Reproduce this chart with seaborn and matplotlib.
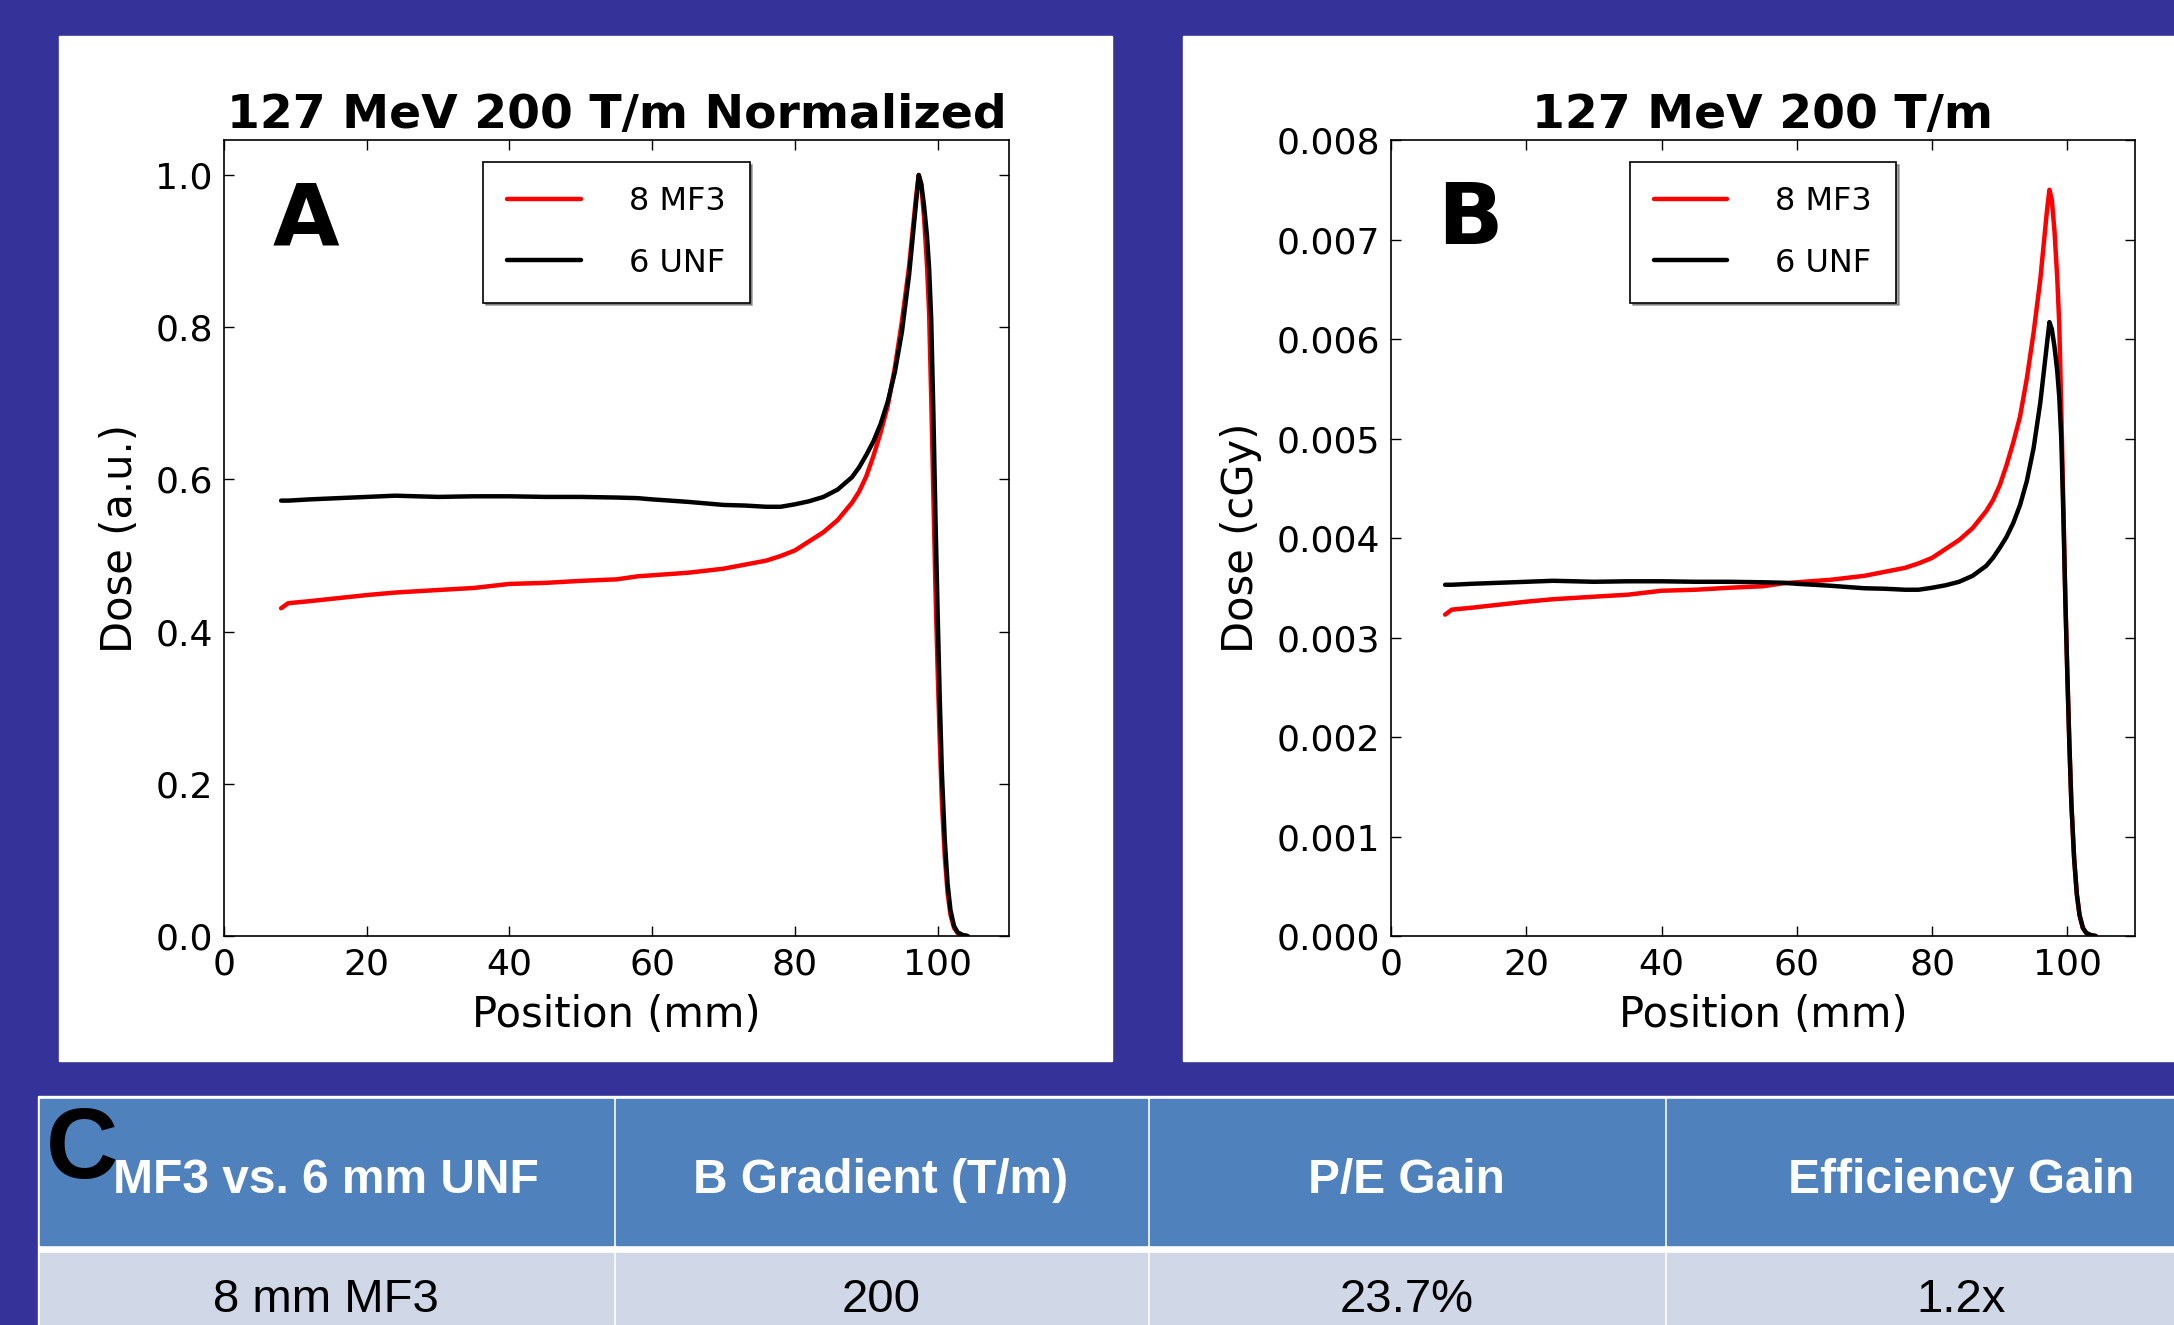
import numpy as np
import pandas as pd
import matplotlib
matplotlib.use("Agg")
import matplotlib.pyplot as plt
import seaborn as sns
from matplotlib.patches import Rectangle
from matplotlib.ticker import FormatStrFormatter

# depth dose curves (dose in 1e-3 cGy)
position = [8, 9, 12, 16, 20, 24, 30, 35, 40, 45,
            50, 55, 58, 60, 65, 70, 73, 76, 78, 80,
            82, 84, 86, 88, 89, 90, 91, 92, 93, 94,
            95, 96, 96.5, 97, 97.35, 97.7, 98.1, 98.5, 98.8, 99.1,
            99.4, 99.7, 100.0, 100.3, 100.6, 101.0, 101.4, 101.8, 102.3, 102.8,
            103.5, 104.2]
dose_mf3 = [3.23, 3.28, 3.30, 3.33, 3.36, 3.385, 3.41, 3.43, 3.47, 3.48,
            3.50, 3.515, 3.545, 3.555, 3.58, 3.62, 3.66, 3.70, 3.745, 3.80,
            3.89, 3.98, 4.10, 4.27, 4.38, 4.53, 4.73, 4.96, 5.22, 5.60,
            6.06, 6.60, 6.95, 7.30, 7.50, 7.40, 7.08, 6.62, 6.15, 5.30,
            4.35, 3.40, 2.62, 1.92, 1.32, 0.78, 0.42, 0.21, 0.08, 0.03,
            0.008, 0.0]
dose_unf = [3.53, 3.53, 3.54, 3.55, 3.56, 3.57, 3.56, 3.565, 3.565, 3.56,
            3.56, 3.555, 3.55, 3.54, 3.52, 3.495, 3.49, 3.48, 3.48, 3.50,
            3.525, 3.56, 3.62, 3.72, 3.80, 3.90, 4.01, 4.15, 4.33, 4.57,
            4.90, 5.36, 5.66, 5.96, 6.17, 6.10, 5.92, 5.68, 5.42, 5.00,
            4.25, 3.38, 2.62, 1.92, 1.32, 0.78, 0.42, 0.21, 0.08, 0.03,
            0.008, 0.0]
beams = ["8 MF3", "6 UNF"]
colors = ["#ff0000", "#000000"]

# table C
header_labels = ["MF3 vs. 6 mm UNF", "B Gradient (T/m)", "P/E Gain", "Efficiency Gain"]
row_values = ["8 mm MF3", "200", "23.7%", "1.2x"]

n = len(position)
df = pd.DataFrame({
    "Position": position * 2,
    "Dose": np.array(dose_mf3 + dose_unf) * 1e-3,
    "Beam": [beams[0]] * n + [beams[1]] * n,
})
df["Norm"] = df["Dose"] / df.groupby("Beam")["Dose"].transform("max")

sns.set_theme(style="ticks", rc={
    "xtick.direction": "in", "ytick.direction": "in",
    "xtick.top": True, "ytick.right": True,
    "xtick.major.size": 7, "ytick.major.size": 7,
    "xtick.major.width": 1.0, "ytick.major.width": 1.0,
    "axes.linewidth": 1.2, "axes.edgecolor": "black",
    "xtick.color": "black", "ytick.color": "black",
    "text.color": "black", "axes.labelcolor": "black",
})
plt.rcParams["font.family"] = ["DejaVu Sans"]

W, H = 2174, 1325
BG = "#353399"
fig = plt.figure(figsize=(W / 100, H / 100), dpi=100, facecolor=BG)

# background layer in pixel units
bg = fig.add_axes([0, 0, 1, 1])
bg.set_xlim(0, W)
bg.set_ylim(H, 0)
bg.axis("off")
bg.set_zorder(0)
bg.add_patch(Rectangle((59, 36), 1053, 1025, color="white"))
bg.add_patch(Rectangle((1183, 36), 1000, 1025, color="white"))

# table
col_edges = [38, 614, 1148, 1665, 2258]
bg.add_patch(Rectangle((38, 1096), 2258 - 38, 300, color="white"))
for i in range(4):
    x0, x1 = col_edges[i] + 1.5, col_edges[i + 1] - 1.5
    bg.add_patch(Rectangle((x0, 1099), x1 - x0, 1245 - 1099, color="#4f81bd"))
    bg.add_patch(Rectangle((x0, 1253), x1 - x0, 120, color="#d0d8e8"))
    xc = (col_edges[i] + col_edges[i + 1]) / 2
    bg.text(xc, 1193, header_labels[i], ha="center", va="baseline", color="white",
            fontsize=34.5, fontweight="bold", family="Liberation Sans")
    bg.text(xc, 1312, row_values[i], ha="center", va="baseline", color="black",
            fontsize=34, family="Liberation Sans")
bg.text(46, 1178, "C", ha="left", va="baseline", color="black",
        fontsize=72, fontweight="bold", family="Liberation Sans")

ax_a = fig.add_axes([224 / W, 1 - 936 / H, 785 / W, 796 / H])
ax_b = fig.add_axes([1391 / W, 1 - 936 / H, 744 / W, 796 / H])

panels = [
    (ax_a, "Norm", "127 MeV 200 T/m Normalized", "Dose (a.u.)", 1.046,
     np.arange(0, 1.01, 0.2), "%.1f", "A"),
    (ax_b, "Dose", "127 MeV 200 T/m", "Dose (cGy)", 0.008,
     np.arange(0, 0.00801, 0.001), "%.3f", "B"),
]

for ax, col, title, ylabel, ytop, yticks, fmt, letter in panels:
    ax.set_zorder(1)
    for beam, c in zip(beams, colors):
        sns.lineplot(data=df[df["Beam"] == beam], x="Position", y=col,
                     color=c, lw=3.2, label=beam, ax=ax, errorbar=None)
    ax.set_xlim(0, 110)
    ax.set_ylim(0, ytop)
    ax.set_xticks(range(0, 101, 20))
    ax.set_yticks(yticks)
    ax.yaxis.set_major_formatter(FormatStrFormatter(fmt))
    ax.tick_params(labelsize=26, pad=8)
    ax.set_xlabel("Position (mm)", fontsize=30, labelpad=9)
    ax.set_ylabel(ylabel, fontsize=30, labelpad=10)
    ax.set_title(title, fontsize=34, fontweight="bold", pad=9)
    ax.text(0.062, 0.951, letter, transform=ax.transAxes, ha="left", va="top",
            fontsize=62, fontweight="bold", color="black")
    leg = ax.legend(loc="upper center", bbox_to_anchor=(0.5, 0.972), borderaxespad=0,
                    fontsize=23, frameon=True, fancybox=False, shadow=True,
                    edgecolor="black", framealpha=1, handlelength=2.3,
                    handletextpad=1.5, borderpad=0.75, labelspacing=0.95)
    leg.get_frame().set_linewidth(1.2)

fig.savefig("out.png", dpi=100, facecolor=BG)
